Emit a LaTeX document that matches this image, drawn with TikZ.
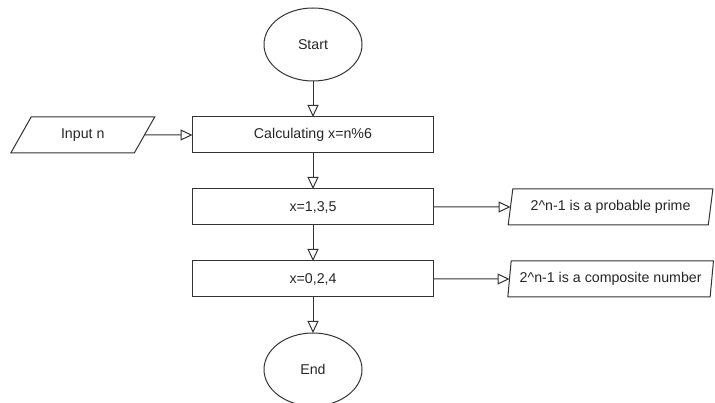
\documentclass[tikz,border=0pt]{standalone}
\usepackage{fontspec}
\setmainfont{Liberation Sans}
\usetikzlibrary{arrows.meta,positioning,shapes.geometric}
\tikzset{
  owal/.style   = {draw, ellipse, minimum width=98pt, minimum height=73pt,
                   inner sep=0pt, outer sep=0pt},
  blok/.style   = {draw, rectangle, minimum width=241pt, minimum height=36pt,
                   inner sep=0pt, outer sep=0pt},
  dane/.style   = {draw, trapezium, trapezium stretches=true,
                   minimum height=36pt, inner sep=0pt, outer sep=0pt},
  strzalka/.style = {-{Triangle[open, length=12pt, width=11pt]}},
}

\begin{document}
\begin{tikzpicture}[x=1pt, y=1pt, line width=1pt, draw=black!80,
    font=\fontsize{14.2}{17}\selectfont, text=black!85]
  \useasboundingbox (0,0) rectangle (715,-403);

  \node[owal] (start) at (313,-44.5) {Start};
  \node[blok, below=36pt of start] (licz) {Calculating x=n\%6};
  \node[dane, left=48pt of licz, minimum width=144pt,
        trapezium left angle=56, trapezium right angle=124] (wej) {Input n};
  \node[blok, below=36pt of licz] (nieparz) {x=1,3,5};
  \node[blok, below=36pt of nieparz] (parz) {x=0,2,4};
  \node[owal, below=36pt of parz] (koniec) {End};

  \node[dane, right=77pt of nieparz, minimum width=205pt,
        trapezium left angle=74, trapezium right angle=106] (pierwsza)
        {2\textasciicircum n-1 is a probable prime};
  \node[dane, right=76pt of parz, minimum width=206pt,
        trapezium left angle=77, trapezium right angle=103] (zlozona)
        {2\textasciicircum n-1 is a composite number};

  \draw[strzalka] (start) -- (licz);
  \draw[strzalka] (wej) -- (licz);
  \draw[strzalka] (licz) -- (nieparz);
  \draw[strzalka] (nieparz) -- (parz);
  \draw[strzalka] (parz) -- (koniec);
  \draw[strzalka] (nieparz) -- (pierwsza);
  \draw[strzalka] (parz) -- (zlozona);
\end{tikzpicture}
\end{document}
